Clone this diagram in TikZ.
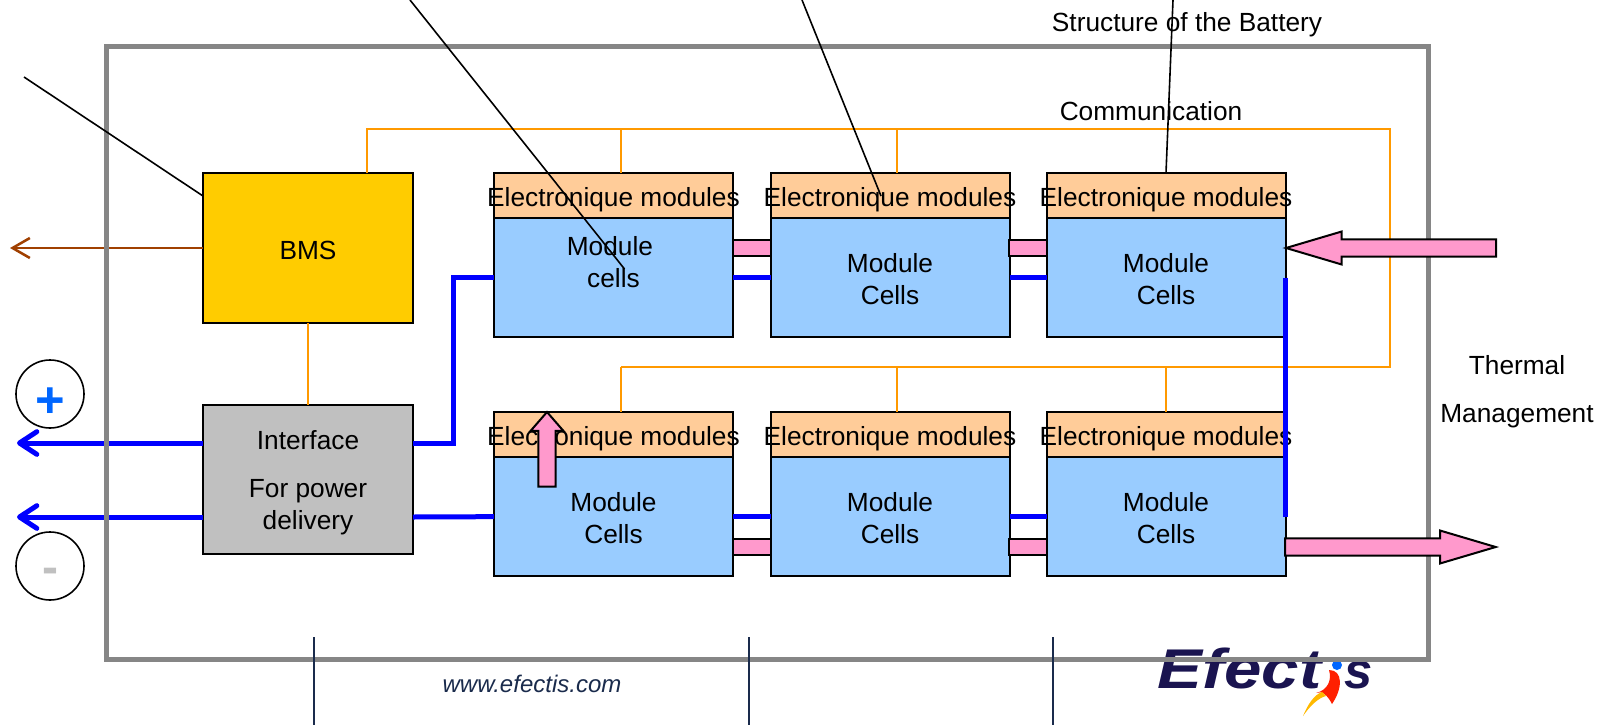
\documentclass[tikz,border=0pt]{standalone}
\usepackage{fontspec}
\setmainfont{Liberation Sans}
\usetikzlibrary{positioning,shapes.arrows,arrows.meta}
\definecolor{hdrorange}{HTML}{FFCC99}
\definecolor{cellblue}{HTML}{99CCFF}
\definecolor{pinkfill}{HTML}{FF99CC}
\definecolor{bmsyellow}{HTML}{FFCC00}
\definecolor{ifacegray}{HTML}{C0C0C0}
\definecolor{framegray}{HTML}{868686}
\definecolor{busorange}{HTML}{FF9900}
\definecolor{brownline}{HTML}{A04000}
\definecolor{navyline}{HTML}{1A2B4C}
\definecolor{logonavy}{HTML}{1A1450}
\definecolor{plusblue}{HTML}{0066FF}
\tikzset{
	basefont/.style={font=\fontsize{19.7pt}{24pt}\selectfont, align=center},
	plainbox/.style={basefont, draw=black, line width=1.5pt, outer sep=0pt},
	hdrbox/.style={plainbox, fill=hdrorange, minimum width=179.25pt, minimum height=33.75pt, inner xsep=-8pt, inner ysep=0pt, text height=15.8pt, text depth=0pt},
	cellsbox/.style={plainbox, fill=cellblue, minimum width=179.25pt, minimum height=89.5pt},
	ctrlbox/.style={plainbox, minimum width=157.5pt, minimum height=112pt},
	pinkbar/.style={draw=black, line width=1.5pt, fill=pinkfill, minimum width=28.5pt, minimum height=11.5pt, inner sep=0pt, outer sep=0pt},
	pinkarrow/.style={single arrow, draw=black, line width=1.5pt, fill=pinkfill, inner sep=0pt, inner ysep=5.8pt, outer sep=0pt, minimum width=23.2pt, single arrow head extend=5.8pt},
	blueline/.style={draw=blue, line width=3.75pt, >={Straight Barb[length=13pt,width=17pt,round]}},
	busline/.style={draw=busorange, line width=1.4pt},
	noteline/.style={draw=black, line width=1.2pt},
	polecircle/.style={draw=black, circle, line width=1.2pt, minimum size=51pt, inner sep=0pt},
	logofont/.style={font=\fontsize{#1}{42pt}\selectfont\bfseries\itshape, text=logonavy, inner sep=0pt},
}
\begin{document}
\begin{tikzpicture}[x=0.75pt, y=-0.75pt]
	\useasboundingbox (0,0) rectangle (1610,725);
	% logo
	\node[logofont=42pt, xscale=1.2, anchor=base east] (logotext) at (1322,688) {Efect};
	\node[logofont=38pt, anchor=base west] (logoend) at (1344,688) {s};
	\fill[red!75!orange] (1329,670) .. controls (1343,670) and (1343,688) .. (1332,704) .. controls (1328,696) and (1322,690) .. (1316,693) .. controls (1328,690) and (1332,680) .. (1329,670) -- cycle;
	\fill[orange!55!yellow] (1322,692) .. controls (1314,695) and (1308,704) .. (1303,716) .. controls (1310,706) and (1318,698) .. (1326,696) -- cycle;
	\fill[blue!60!cyan] (1337,665) circle (5);
	% control blocks
	\node[ctrlbox, fill=bmsyellow] (bms) at (308,248) {\rule{0pt}{17pt}BMS};
	\node[ctrlbox, fill=ifacegray] (iface) at (308,479.5) {\rule{0pt}{19pt}Interface\\[11.5pt]For power\\delivery};
	% leads to the outside
	\coordinate (plusend) at (17,443);
	\coordinate (minusend) at (17,517);
	\coordinate (brownend) at (10,248);
	\draw[blueline, ->] (iface.west |- plusend) -- (plusend);
	\draw[blueline, ->] (iface.west |- minusend) -- (minusend);
	\draw[brownline, line width=1.9pt, ->, >={Straight Barb[length=13pt,width=15pt]}] (bms.west) -- (brownend);
	% outer frame
	\node[draw=framegray, line width=3.75pt, minimum width=991.5pt, minimum height=459.75pt, outer sep=0pt] (frame) at (767,352.5) {};
	% communication bus
	\coordinate (busleft) at (367,129);
	\coordinate (busright) at (1390,129);
	\coordinate (busdown) at (1390,367);
	\coordinate (buslow) at (621,367);
	% modules
	\foreach \name/\xc in {a/613.5,b/890,c/1166}
		\node[hdrbox] (hdr\name) at (\xc,195.5) {Electronique modules};
	\foreach \name/\xc in {d/613.5,e/890,f/1166}
		\node[hdrbox] (hdr\name) at (\xc,434.5) {Electronique modules};
	\node[cellsbox, below=0pt of hdra] (cellsa) {};
	\node[basefont, yshift=12pt] (cellstext) at (cellsa) {Module\hspace{5.4pt}\mbox{}\\cells};
	\foreach \name in {b,c,d,e,f}
		\node[cellsbox, below=0pt of hdr\name] (cells\name) {\rule{0pt}{16.8pt}Module\\Cells};
	% bus drawing
	\draw[busline] (bms.north -| busleft) -- (busleft) -- (busright) -- (busdown) -- (buslow);
	\foreach \xc/\name in {621/a,897/b}
		\draw[busline] (\xc,129) -- (hdr\name.north -| \xc,129);
	\foreach \xc/\name in {621/d,897/e,1166/f}
		\draw[busline] (\xc,367) -- (hdr\name.north -| \xc,367);
	\draw[busline] (bms.south) -- (iface.north);
	% power line
	\draw[blueline] (iface.east |- plusend) -- ++(40,0) |- (cellsa.west);
	\draw[blueline] (iface.east |- minusend) -- (cellsd.west);
	\draw[blueline] (cellsa.east) -- (cellsb.west);
	\draw[blueline] (cellsb.east) -- (cellsc.west);
	\draw[blueline] (cellsd.east) -- (cellse.west);
	\draw[blueline] (cellse.east) -- (cellsf.west);
	\draw[blueline] (cellsc.east) -- (cellsf.east);
	% cooling circuit
	\foreach \name/\xc/\yc in {ab/752/248,bc/1028/248,de/752/547,ef/1028/547}
		\node[pinkbar] (link\name) at (\xc,\yc) {};
	\node[pinkarrow, minimum height=157.5pt, single arrow tip angle=33, rotate=180, anchor=tip] (thermalin) at (1286,248) {};
	\node[pinkarrow, minimum height=158pt, single arrow tip angle=33, anchor=tail] (thermalout) at (1285,547) {};
	\node[pinkarrow, minimum height=56pt, single arrow tip angle=82, rotate=90, anchor=tip] (thermalup) at (547,412) {};
	% pointer lines
	\coordinate (notebms) at (24,77);
	\coordinate (bmsend) at (203,196);
	\coordinate (notecells) at (410,0);
	\coordinate (cellsend) at (624.5,269);
	\coordinate (notemodule) at (802,0);
	\coordinate (moduleend) at (881,196);
	\coordinate (notestruct) at (1173,0);
	\draw[noteline] (notebms) -- (bmsend);
	\draw[noteline] (notecells) -- (cellsend);
	\draw[noteline] (notemodule) -- (moduleend);
	\draw[noteline] (notestruct) -- (hdrc.north);
	% poles
	\node[polecircle] (pluspole) at (50,394) {};
	\node[polecircle] (minuspole) at (50,566) {};
	\node[text=plusblue, font=\fontsize{38pt}{38pt}\selectfont\bfseries, inner sep=0pt] (plus) at (50,403) {+};
	\node[text=ifacegray, font=\fontsize{36pt}{36pt}\selectfont\bfseries, inner sep=0pt] (minus) at (50,576) {-};
	% labels
	\node[basefont] (structure) at (1187,24.5) {Structure of the Battery};
	\node[basefont] (communication) at (1151,111) {Communication};
	\node[basefont] (thermal) at (1517,391.5) {Thermal\\[12pt]Management};
	\node[font=\fontsize{18pt}{18pt}\selectfont\itshape, text=navyline] (website) at (532,684) {www.efectis.com};
	% footer ticks
	\foreach \x in {314,749,1053}
		\draw[navyline, line width=1.5pt] (\x,637) -- (\x,725);
\end{tikzpicture}
\end{document}
